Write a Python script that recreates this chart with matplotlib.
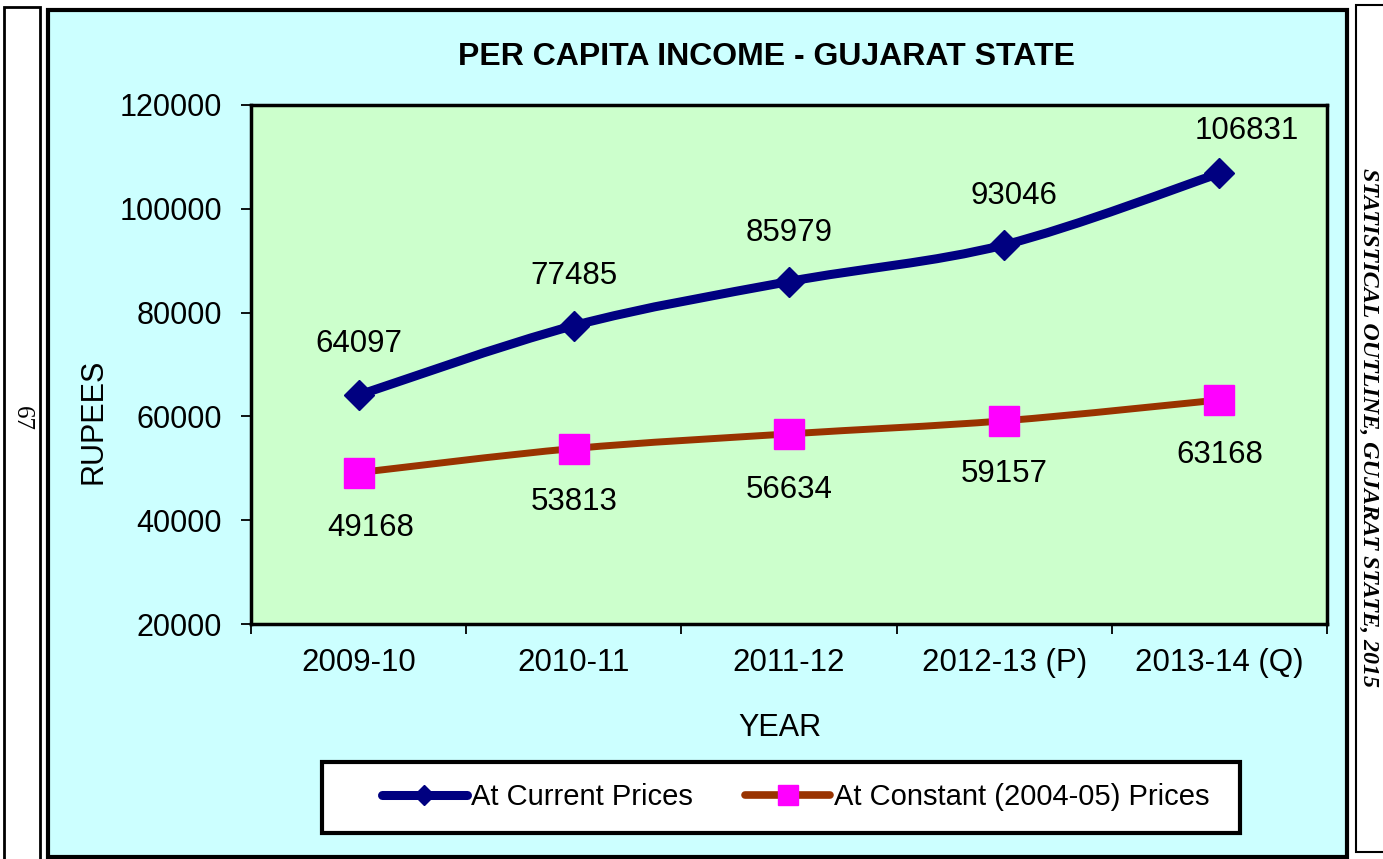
import matplotlib
matplotlib.use('Agg')
import matplotlib.pyplot as plt
from matplotlib.path import Path
from matplotlib.patches import PathPatch, Rectangle
from matplotlib.lines import Line2D
import numpy as np

# ---------------- data ----------------
years = ['2009-10', '2010-11', '2011-12', '2012-13 (P)', '2013-14 (Q)']
current_prices = [64097, 77485, 85979, 93046, 106831]
constant_prices = [49168, 53813, 56634, 59157, 63168]
y_ticks = [20000, 40000, 60000, 80000, 100000, 120000]
series_names = ['At Current Prices', 'At Constant (2004-05) Prices']
title = 'PER CAPITA INCOME - GUJARAT STATE'

# label offsets in pixels (dx, dy)
cur_offsets = [(0, 51), (0, 50), (0, 49), (10, 49), (27, 42)]
con_offsets = [(12, -55), (0, -53), (0, -56), (0, -53), (0, -55)]

BLUE = '#000080'
BROWN = '#993300'
MAGENTA = '#FF00FF'
CHART_BG = '#CCFFFF'
PLOT_BG = '#CCFFCC'

plt.rcParams['font.family'] = ['Liberation Sans', 'DejaVu Sans']

W, H = 1383, 859
fig = plt.figure(figsize=(W / 100, H / 100), dpi=100)
fig.patch.set_facecolor('white')


def fx(px):
    return px / W


def fy(py):
    return 1 - py / H


def box(x0, y0, x1, y1, **kw):
    r = Rectangle((fx(x0), fy(y1)), (x1 - x0) / W, (y1 - y0) / H,
                  transform=fig.transFigure, **kw)
    fig.add_artist(r)
    return r


# page strips and chart area
box(4, 7, 40, 866, facecolor='white', edgecolor='black', lw=2, zorder=-3)
box(1356, 5, 1395, 852, facecolor='white', edgecolor='black', lw=1.5, zorder=-3)
box(48, 10, 1347, 857, facecolor=CHART_BG, edgecolor='black', lw=3, zorder=-2)
box(322, 762, 1240, 833, facecolor='white', edgecolor='black', lw=3, zorder=-1)

# ---------------- axes ----------------
ax = fig.add_axes([fx(251), fy(624), (1327 - 251) / W, (624 - 105) / H])
ax.set_facecolor(PLOT_BG)
ax.set_xlim(-0.5, len(years) - 0.5)
ax.set_ylim(y_ticks[0], y_ticks[-1])


def smooth_path(xs, ys):
    pts = np.column_stack([xs, ys]).astype(float)
    n = len(pts)
    verts = [pts[0]]
    codes = [Path.MOVETO]
    for i in range(n - 1):
        p0 = pts[i - 1] if i > 0 else pts[i]
        p1 = pts[i]
        p2 = pts[i + 1]
        p3 = pts[i + 2] if i + 2 < n else pts[i + 1]
        c1 = p1 + (p2 - p0) / 6
        c2 = p2 - (p3 - p1) / 6
        verts += [c1, c2, p2]
        codes += [Path.CURVE4] * 3
    return Path(verts, codes)


x = np.arange(len(years))
ax.add_patch(PathPatch(smooth_path(x, current_prices), fill=False,
                       edgecolor=BLUE, lw=6.5, capstyle='round', zorder=3))
ax.add_patch(PathPatch(smooth_path(x, constant_prices), fill=False,
                       edgecolor=BROWN, lw=5, capstyle='round', zorder=3))
ax.plot(x, current_prices, linestyle='none', marker='D', ms=15,
        mfc=BLUE, mec=BLUE, zorder=4)
ax.plot(x, constant_prices, linestyle='none', marker='s', ms=21,
        mfc=MAGENTA, mec=MAGENTA, zorder=4)

for i, v in enumerate(current_prices):
    ax.annotate(str(v), (i, v), xytext=cur_offsets[i], textcoords='offset pixels',
                ha='center', va='center', fontsize=22.5, color='black')
for i, v in enumerate(constant_prices):
    ax.annotate(str(v), (i, v), xytext=con_offsets[i], textcoords='offset pixels',
                ha='center', va='center', fontsize=22.5, color='black')

# ticks
ax.set_xticks(np.arange(-0.5, len(years), 1))
ax.set_xticklabels([])
ax.set_xticks(x, minor=True)
ax.set_xticklabels(years, minor=True)
ax.tick_params(axis='x', which='major', length=7, width=1.3, direction='out')
ax.tick_params(axis='x', which='minor', length=0, pad=17, labelsize=22.5)
ax.set_yticks(y_ticks)
ax.set_yticklabels([str(v) for v in y_ticks])
ax.tick_params(axis='y', length=7, width=1.3, direction='out', pad=14, labelsize=22)
for s in ax.spines.values():
    s.set_linewidth(2.5)
    s.set_color('black')

# texts
fig.text(fx(767), fy(57), title, ha='center', va='center', fontsize=23,
         fontweight='bold', family=['Liberation Sans Narrow', 'Liberation Sans'])
fig.text(fx(93), fy(421), 'RUPEES', rotation=90, ha='center', va='center', fontsize=22)
fig.text(fx(780), fy(728), 'YEAR', ha='center', va='center', fontsize=22)
fig.text(fx(1369), fy(428), 'STATISTICAL OUTLINE, GUJARAT STATE, 2015', rotation=-90,
         ha='center', va='center', fontsize=17.3, fontweight='bold', fontstyle='italic',
         family=['Liberation Serif', 'DejaVu Serif'])
fig.text(fx(22), fy(418), '67', rotation=-90, ha='center', va='center', fontsize=18,
         family=['Liberation Serif', 'DejaVu Serif'])

# legend
handles = [
    Line2D([], [], color=BLUE, lw=6.5, marker='D', ms=10, mfc=BLUE, mec=BLUE,
           solid_capstyle='round'),
    Line2D([], [], color=BROWN, lw=5.5, marker='s', ms=14, mfc=MAGENTA, mec=MAGENTA,
           solid_capstyle='round'),
]
fig.legend(handles, series_names, loc='center', bbox_to_anchor=(fx(796), fy(797)),
           ncol=2, frameon=False, handlelength=2.9, handletextpad=0.15,
           columnspacing=1.8,
           prop={'family': ['Liberation Sans Narrow', 'Liberation Sans'], 'size': 21})

fig.savefig('out.png', dpi=100)
